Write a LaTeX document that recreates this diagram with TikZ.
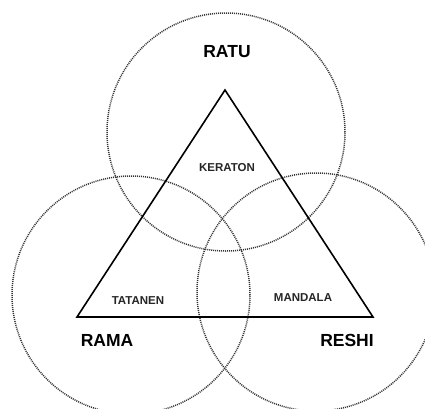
\documentclass[tikz,border=0pt]{standalone}
\usepackage{fontspec}
\setmainfont{Liberation Sans}
\begin{document}
\begin{tikzpicture}[x=1pt, y=-1pt,
    ring/.style={circle, draw=black!80, line width=1.5pt, dash pattern=on 1pt off 1pt, minimum size=238pt, inner sep=0pt},
    bigname/.style={font=\bfseries\fontsize{17.5}{18}\selectfont},
    smallname/.style={font=\bfseries\fontsize{11.5}{12}\selectfont, text=black!85}]

    \useasboundingbox (0,0) rectangle (425,408);

    % DOTTED CIRCLES
    \node[ring] (ratuC) at (226,132) {};
    \node[ring] (ramaC) at (131,295) {};
    \node[ring] (reshiC) at (316,292) {};

    % TRIANGLE CORNERS
    \coordinate (top) at (225,90);
    \coordinate (left) at (77,317);
    \coordinate (right) at (373,317);

    \draw[line width=1.6pt, line join=miter] (top) -- (left) -- (right) -- cycle;

    % CORNER NAMES
    \node[bigname] (ratu) at (227,52) {RATU};
    \node[bigname] (rama) at (107,340) {RAMA};
    \node[bigname] (reshi) at (347,340) {RESHI};

    % INNER NAMES
    \node[smallname] (keraton) at (227,168) {KERATON};
    \node[smallname] (tatanen) at (138,301) {TATANEN};
    \node[smallname] (mandala) at (303,298) {MANDALA};

\end{tikzpicture}
\end{document}
